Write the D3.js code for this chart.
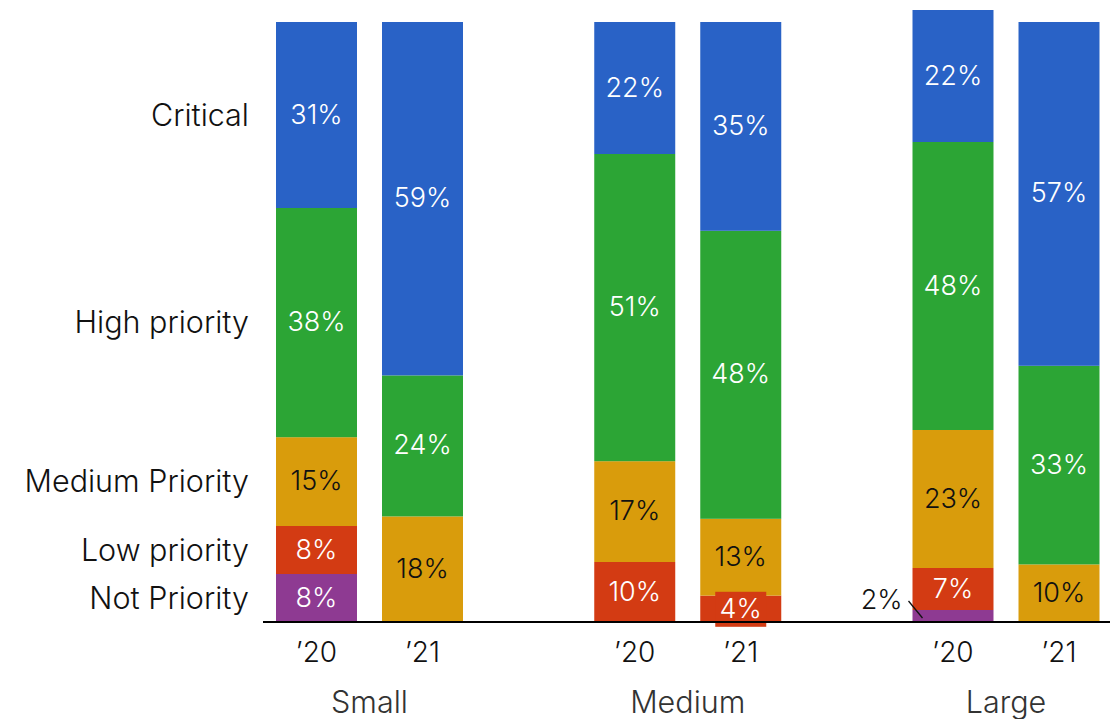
<!DOCTYPE html>
<html>
<head>
<meta charset="utf-8">
<script src="https://cdn.jsdelivr.net/npm/d3@7"></script>
<style>
  body { margin: 0; background: #fff; }
  text { font-family: "Inter", "Open Sans", sans-serif; font-weight: 300; }
</style>
</head>
<body>
<div id="chart"></div>
<script>
// company size groups and survey years
var groups = ["Small", "Medium", "Large"];
var years = ["’20", "’21"];
var priorities = ["Not Priority", "Low priority", "Medium Priority", "High priority", "Critical"];

// share of respondents (%), one array per priority level, ordered Small'20, Small'21, Medium'20, Medium'21, Large'20, Large'21
var notPriority    = [8,    0,    0,    0,    2,    0];
var lowPriority    = [8,    0,    10,   4.4,  7,    0];
var mediumPriority = [14.8, 17.6, 16.8, 12.8, 23,   9.6];
var highPriority   = [38.2, 23.5, 51.2, 48,   48,   33.1];
var critical       = [31,   58.9, 22,   34.8, 22,   57.3];

var colors = ["#8E3A92", "#D33B13", "#D99C0C", "#2CA535", "#2962C6"];
var textColors = ["#fff", "#fff", "#111", "#fff", "#fff"];

var series = [notPriority, lowPriority, mediumPriority, highPriority, critical];

// build rows
var rows = [];
groups.forEach(function(g, gi) {
  years.forEach(function(yr, yi) {
    var i = gi * 2 + yi;
    var row = {group: g, year: yr};
    priorities.forEach(function(p, pi) { row[p] = series[pi][i]; });
    rows.push(row);
  });
});

var width = 1120, height = 719;
var baseY = 622;

var svg = d3.select("#chart").append("svg")
  .attr("width", width)
  .attr("height", height);

var x0 = d3.scalePoint()
  .domain(groups)
  .range([369.5, 1006]);

var x1 = d3.scaleBand()
  .domain(years)
  .range([-93.5, 93.5])
  .paddingInner(0.236)
  .paddingOuter(0);

var y = d3.scaleLinear()
  .domain([0, 100])
  .range([baseY, 22]);

var stacked = d3.stack().keys(priorities)(rows);

var fmt = function(v) { return Math.round(v) + "%"; };

// bars
var layer = svg.selectAll("g.layer")
  .data(stacked)
  .enter().append("g")
  .attr("class", "layer")
  .attr("fill", function(d, i) { return colors[i]; });

layer.selectAll("rect")
  .data(function(d) { return d; })
  .enter().append("rect")
  .attr("x", function(d) { return x0(d.data.group) + x1(d.data.year); })
  .attr("width", x1.bandwidth())
  .attr("y", function(d) { return y(d[1]); })
  .attr("height", function(d) { return y(d[0]) - y(d[1]); });

// value labels
stacked.forEach(function(s, si) {
  s.forEach(function(d) {
    var v = d[1] - d[0];
    if (v <= 0) return;
    var cx = x0(d.data.group) + x1(d.data.year) + x1.bandwidth() / 2;
    var cy = (y(d[0]) + y(d[1])) / 2;
    var h = y(d[0]) - y(d[1]);
    if (h >= 30) {
      svg.append("text")
        .attr("x", cx).attr("y", cy - 1)
        .attr("text-anchor", "middle")
        .attr("dominant-baseline", "central")
        .attr("font-size", 27)
        .attr("fill", textColors[si])
        .text(fmt(v));
    } else if (v >= 4) {
      // small segment: label on a box of the segment colour
      svg.append("rect")
        .attr("x", cx - 25.5).attr("y", cy - 17)
        .attr("width", 51).attr("height", 35)
        .attr("fill", colors[si]);
      svg.append("text")
        .attr("x", cx).attr("y", cy)
        .attr("text-anchor", "middle")
        .attr("dominant-baseline", "central")
        .attr("font-size", 27)
        .attr("fill", textColors[si])
        .text(fmt(v));
    } else {
      // tiny segment: label outside with a leader line
      var left = x0(d.data.group) + x1(d.data.year);
      svg.append("line")
        .attr("x1", left - 4).attr("y1", cy - 15)
        .attr("x2", left + 10).attr("y2", cy + 2)
        .attr("stroke", "#111").attr("stroke-width", 1.3);
      svg.append("text")
        .attr("x", left - 10).attr("y", cy - 17)
        .attr("text-anchor", "end")
        .attr("dominant-baseline", "central")
        .attr("font-size", 27)
        .attr("fill", "#111")
        .text(fmt(v));
    }
  });
});

// baseline
svg.append("line")
  .attr("x1", 263).attr("x2", 1110)
  .attr("y1", baseY).attr("y2", baseY)
  .attr("stroke", "#000").attr("stroke-width", 2);

// category labels on the left, centred on the first bar's segments
var first = stacked.map(function(s) { return s[0]; });
svg.selectAll("text.cat")
  .data(first)
  .enter().append("text")
  .attr("class", "cat")
  .attr("x", 249)
  .attr("y", function(d) { return (y(d[0]) + y(d[1])) / 2 - 1; })
  .attr("text-anchor", "end")
  .attr("dominant-baseline", "central")
  .attr("font-size", 30.5)
  .attr("fill", "#111")
  .text(function(d, i) { return priorities[i]; });

// year labels
rows.forEach(function(r) {
  svg.append("text")
    .attr("x", x0(r.group) + x1(r.year) + x1.bandwidth() / 2)
    .attr("y", 652)
    .attr("text-anchor", "middle")
    .attr("dominant-baseline", "central")
    .attr("font-size", 28)
    .attr("fill", "#111")
    .text(r.year);
});

// group labels
svg.selectAll("text.grp")
  .data(groups)
  .enter().append("text")
  .attr("class", "grp")
  .attr("x", function(d) { return x0(d); })
  .attr("y", 701)
  .attr("text-anchor", "middle")
  .attr("dominant-baseline", "central")
  .attr("font-size", 30.5)
  .attr("fill", "#333")
  .text(function(d) { return d; });
</script>
</body>
</html>
